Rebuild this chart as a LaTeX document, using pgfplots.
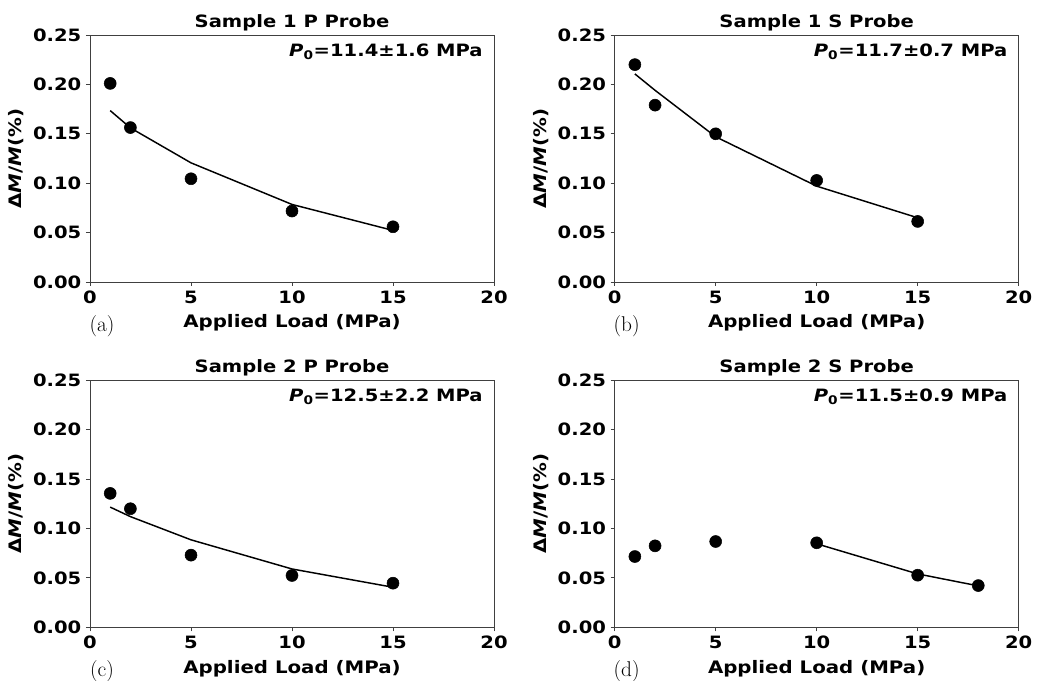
\documentclass[border=0pt]{standalone}
\usepackage{fontspec}
\usepackage{pgfplots}
\pgfplotsset{compat=1.18}
\newfontfamily\djv[FakeStretch=1.15]{DejaVu Sans}

% shared look of the four panels
\pgfplotsset{panel/.style={
    scale only axis, width=303pt, height=185.25pt, anchor=south west,
    xmin=0, xmax=20, ymin=0, ymax=0.25,
    xtick={0,5,10,15,20}, ytick={0,0.05,0.10,0.15,0.20,0.25},
    tick align=outside, xtick pos=bottom, ytick pos=left,
    major tick length=3pt,
    axis line style={black!75, line width=0.6pt},
    every tick/.style={black!75, line width=0.6pt},
    /pgf/number format/assume math mode=true,
    ticklabel style={font=\djv\bfseries\fontsize{12.75}{14}\selectfont},
    yticklabel style={/pgf/number format/fixed, /pgf/number format/fixed zerofill, /pgf/number format/precision=2},
    every axis title shift=0pt,
    title style={font=\djv\bfseries\fontsize{12.75}{14}\selectfont, at={(0.5,1)}, anchor=base, yshift=5.5pt},
    label style={font=\djv\bfseries\fontsize{12.9}{14}\selectfont},
    xlabel style={yshift=-1.5pt},
    xlabel={Applied Load (MPa)},
    ylabel={Δ{\itshape M}/{\itshape M}(\%)},
    clip=false,
}}
\pgfplotsset{pts/.style={only marks, mark=*, mark size=4.5pt, black},
    fit/.style={no marks, black, line width=1.1pt}}
\newcommand{\pnote}[1]{\node[anchor=base east, font=\djv\bfseries\fontsize{12.75}{14}\selectfont]
    at (rel axis cs:1,1) [xshift=-5pt, yshift=-16pt] {{\itshape P}\textsubscript{0}=#1 MPa};}
\newcommand{\plabel}[1]{\node[anchor=base, font=\fontsize{16}{18}\selectfont]
    at (rel axis cs:0,0) [xshift=9pt, yshift=-37pt] {(#1)};}

\begin{document}
\begin{tikzpicture}
\useasboundingbox (0,0) rectangle (779.25pt,510.75pt);

\begin{axis}[panel, at={(67.5pt,299.25pt)}, title={Sample 1 P Probe}]
\addplot[fit] coordinates {(1,0.1735) (2,0.156) (5,0.1206) (10,0.0785) (15,0.0522)};
\addplot[pts] coordinates {(1,0.201) (2,0.1563) (5,0.1045) (10,0.0718) (15,0.0559)};
\pnote{11.4±1.6}
\plabel{a}
\end{axis}

\begin{axis}[panel, at={(461pt,299.25pt)}, title={Sample 1 S Probe}]
\addplot[fit] coordinates {(1,0.2106) (2,0.194) (5,0.147) (10,0.097) (15,0.065)};
\addplot[pts] coordinates {(1,0.220) (2,0.179) (5,0.150) (10,0.1028) (15,0.0613)};
\pnote{11.7±0.7}
\plabel{b}
\end{axis}

\begin{axis}[panel, at={(67.5pt,40.3pt)}, title={Sample 2 P Probe}]
\addplot[fit] coordinates {(1,0.1216) (2,0.112) (5,0.0885) (10,0.059) (15,0.0405)};
\addplot[pts] coordinates {(1,0.1355) (2,0.120) (5,0.073) (10,0.0524) (15,0.0446)};
\pnote{12.5±2.2}
\plabel{c}
\end{axis}

\begin{axis}[panel, at={(461pt,40.3pt)}, title={Sample 2 S Probe}]
\addplot[fit] coordinates {(10,0.0845) (15,0.054) (18,0.0419)};
\addplot[pts] coordinates {(1,0.0716) (2,0.0824) (5,0.0868) (10,0.0855) (15,0.0527) (18,0.0422)};
\pnote{11.5±0.9}
\plabel{d}
\end{axis}
\end{tikzpicture}
\end{document}
